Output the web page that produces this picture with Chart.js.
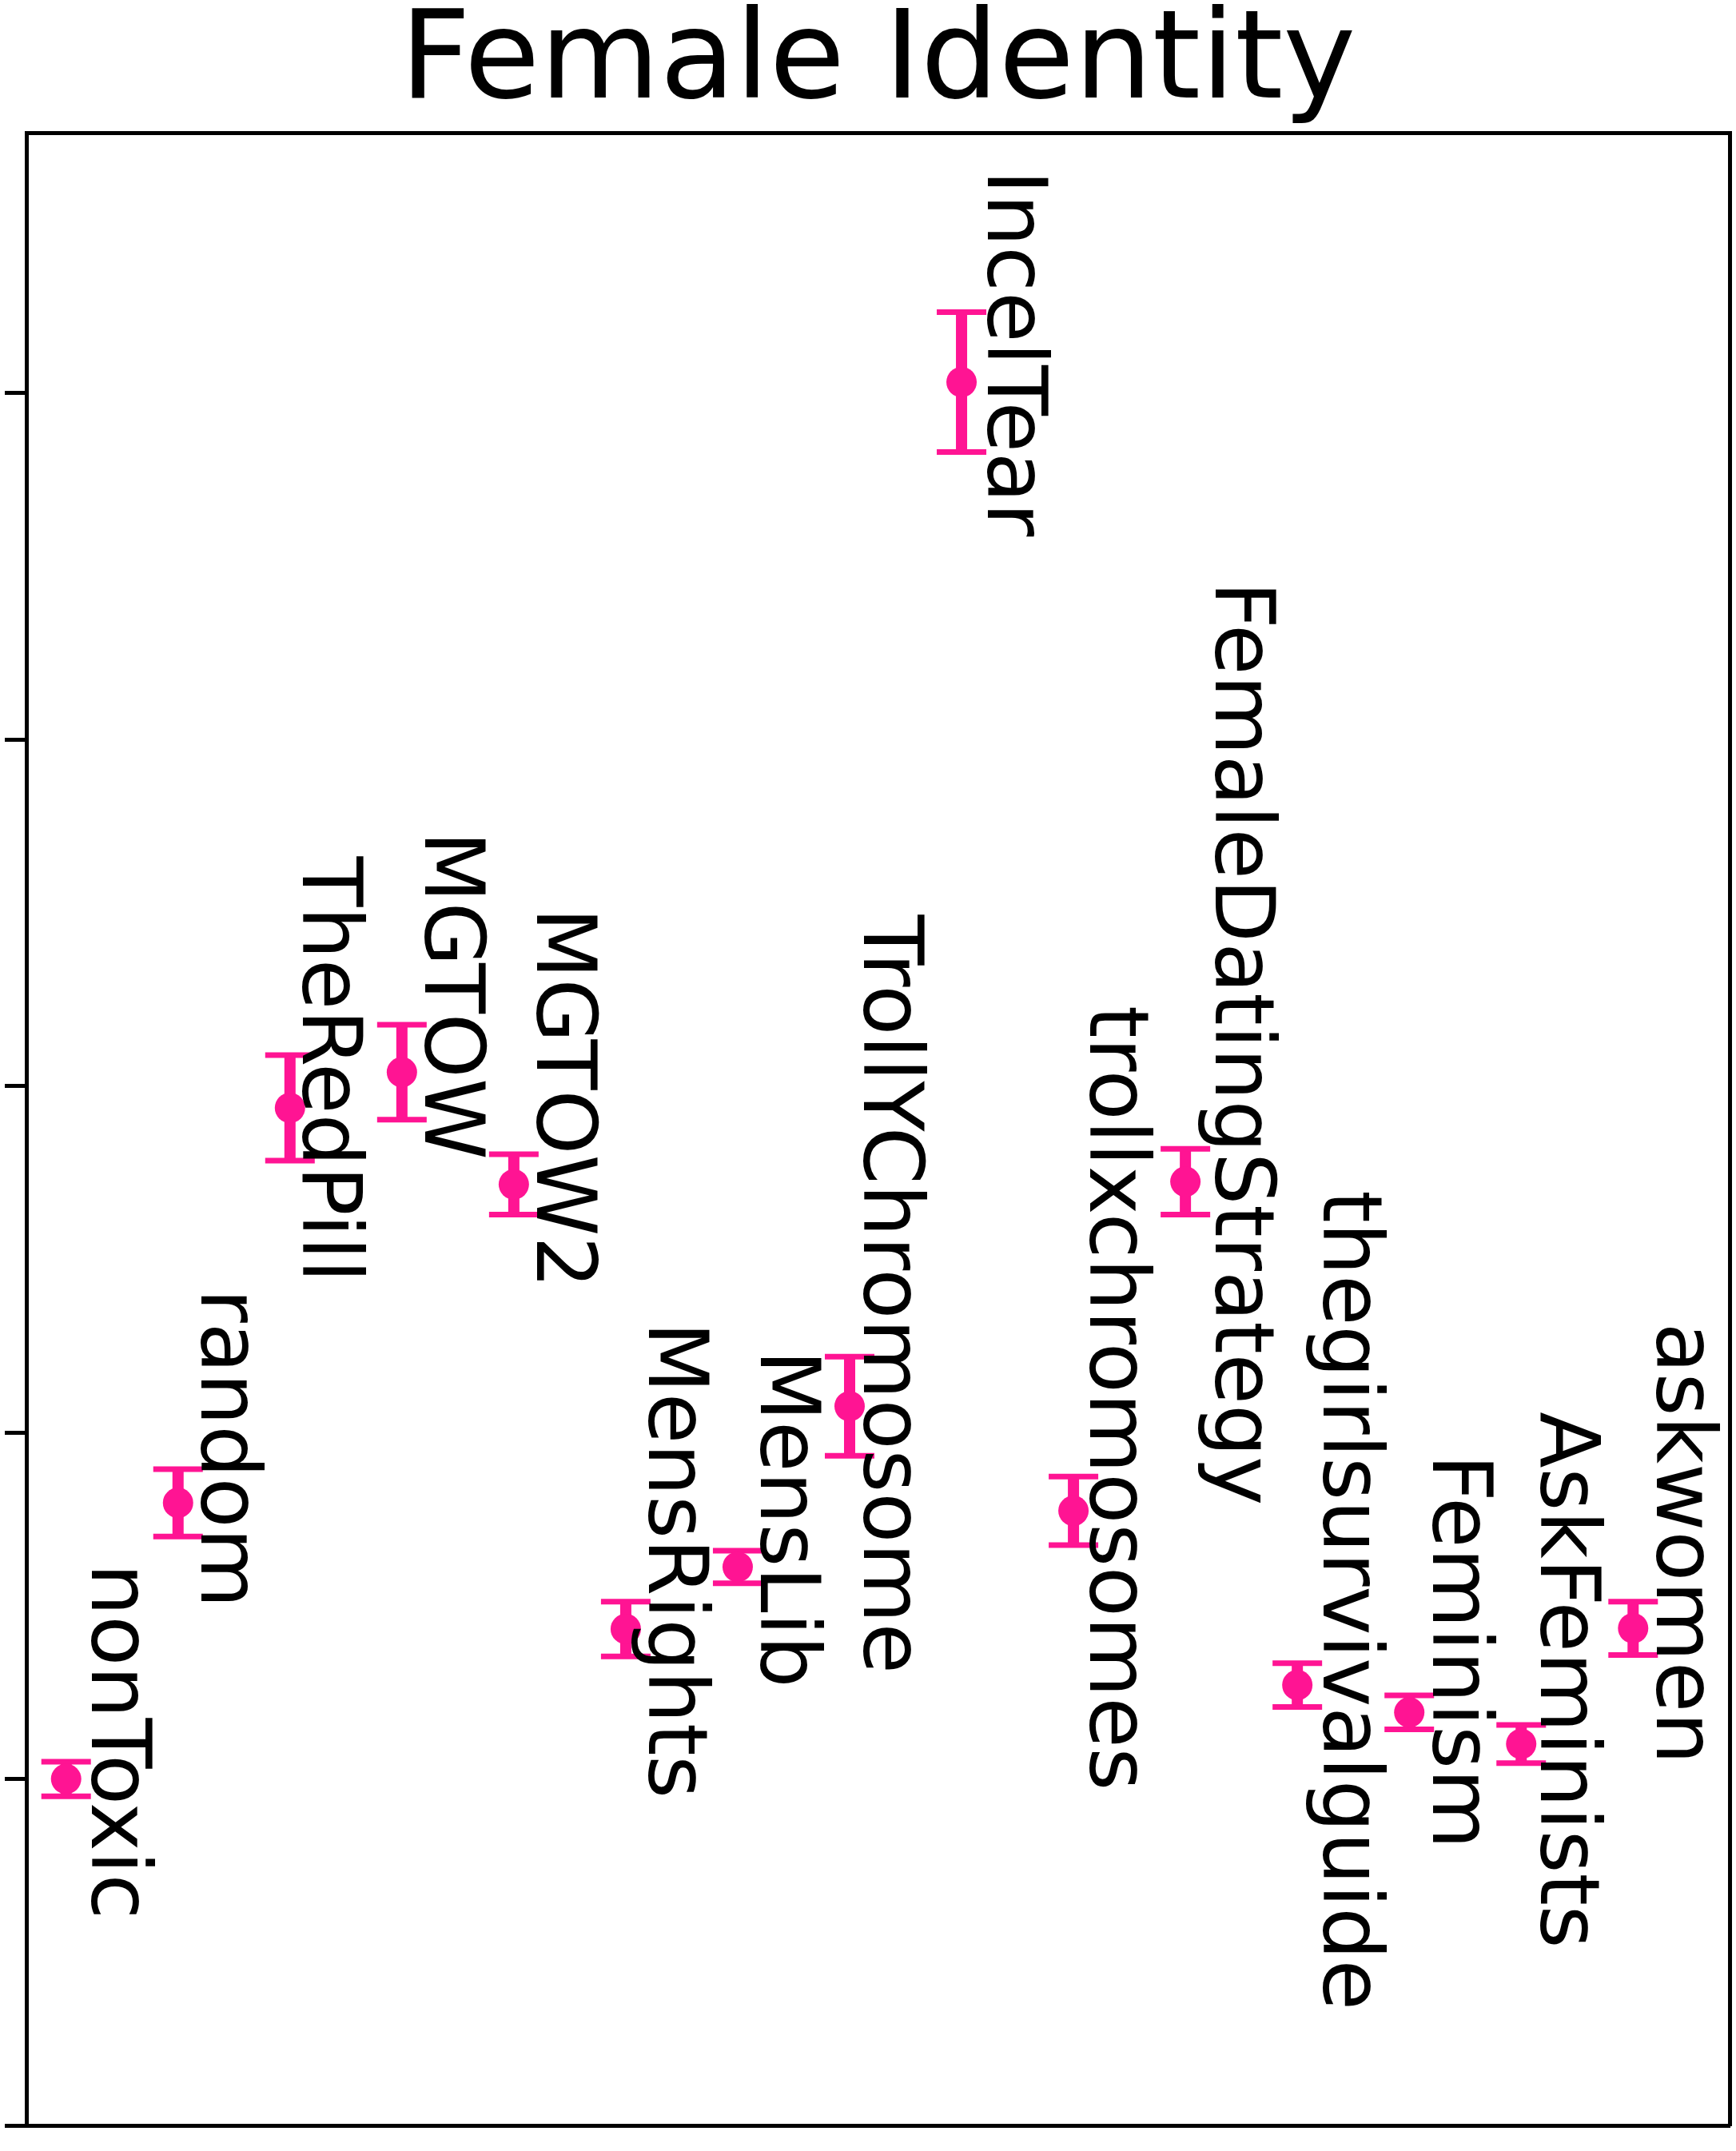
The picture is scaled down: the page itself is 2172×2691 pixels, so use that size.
<!DOCTYPE html>
<html>
<head>
<meta charset="utf-8">
<script src="https://cdn.jsdelivr.net/npm/chart.js@4.4.1/dist/chart.umd.min.js"></script>
<style>
  html, body { margin: 0; padding: 0; background: #ffffff; }
  #wrap { width: 2172px; height: 2691px; }
</style>
</head>
<body>
<div id="wrap"><canvas id="c" width="2172" height="2691"></canvas></div>
<script>
// ---- data ----
const categories = ['nonToxic', 'random', 'TheRedPill', 'MGTOW', 'MGTOW2', 'MensRights', 'MensLib',
  'TrollYChromosome', 'IncelTear', 'trollxchromosomes', 'FemaleDatingStrategy',
  'thegirlsurvivalguide', 'Feminism', 'AskFeminists', 'askwomen'];
const means  = [0.000, 0.797, 1.937, 2.040, 1.716, 0.433, 0.612, 1.076, 4.032, 0.774, 1.724, 0.271, 0.192, 0.101, 0.435];
const errors = [0.050, 0.097, 0.152, 0.137, 0.087, 0.079, 0.047, 0.143, 0.202, 0.099, 0.095, 0.063, 0.049, 0.055, 0.077];
const yTickValues = [-1, 0, 1, 2, 3, 4];
const yTickLabels = ['', '', '', '', '', ''];
const titleText = 'Female Identity';

// ---- layout / style (not data) ----
const PINK = '#ff1493';
const FONT = '"DejaVu Sans", "Liberation Sans", sans-serif';
// label offsets in px relative to each point: [dx of text baseline, dy of text centre]
const labelOffsets = [[32, -47], [29, -68], [16, -48], [29, -96], [29, -108], [29, -86], [29, -60],
  [18, -140], [33, -36], [21, -141], [38, -173], [33, -106], [30, -76], [25, -80], [30, -106]];

const errorBarPlugin = {
  id: 'errorBars',
  beforeDatasetsDraw(chart) {
    const { ctx, scales: { x, y } } = chart;
    ctx.save();
    ctx.strokeStyle = PINK;
    categories.forEach((c, i) => {
      const px = x.getPixelForValue(i);
      const top = y.getPixelForValue(means[i] + errors[i]);
      const bot = y.getPixelForValue(means[i] - errors[i]);
      ctx.lineWidth = 14;
      ctx.beginPath(); ctx.moveTo(px, top); ctx.lineTo(px, bot); ctx.stroke();
      ctx.lineWidth = 7;
      ctx.beginPath();
      ctx.moveTo(px - 31, top); ctx.lineTo(px + 31, top);
      ctx.moveTo(px - 31, bot); ctx.lineTo(px + 31, bot);
      ctx.stroke();
    });
    ctx.restore();
  }
};

const labelPlugin = {
  id: 'pointLabels',
  afterDatasetsDraw(chart) {
    const { ctx, scales: { x, y } } = chart;
    ctx.save();
    ctx.fillStyle = '#000000';
    ctx.font = '103px ' + FONT;
    ctx.textAlign = 'center';
    ctx.textBaseline = 'alphabetic';
    categories.forEach((c, i) => {
      const px = x.getPixelForValue(i) + labelOffsets[i][0];
      const py = y.getPixelForValue(means[i]) + labelOffsets[i][1];
      ctx.save();
      ctx.translate(px, py);
      ctx.rotate(Math.PI / 2);
      ctx.fillText(c, 0, 0);
      ctx.restore();
    });
    ctx.restore();
  }
};

const border = { display: true, width: 5, color: '#000000' };
const noGrid = { display: false, drawTicks: false, tickLength: 0 };
const xRange = { min: -0.355, max: 14.862 };
const yRange = { min: -1, max: 4.75 };

new Chart(document.getElementById('c'), {
  type: 'scatter',
  data: {
    datasets: [{
      label: titleText,
      data: categories.map((c, i) => ({ x: i, y: means[i] })),
      pointRadius: 19,
      pointHoverRadius: 19,
      pointBackgroundColor: PINK,
      pointBorderWidth: 0,
      showLine: false,
      clip: false
    }]
  },
  options: {
    responsive: false,
    devicePixelRatio: 1,
    animation: false,
    events: [],
    layout: { autoPadding: false, padding: { left: 6, right: 8, top: 0, bottom: 32 } },
    plugins: {
      legend: { display: false },
      tooltip: { enabled: false },
      title: {
        display: true,
        fullSize: false,
        text: titleText,
        color: '#000000',
        font: { family: FONT, size: 154, weight: 'normal', lineHeight: 0.914 },
        padding: { top: 12, bottom: 14 }
      }
    },
    scales: {
      x: {
        type: 'linear', position: 'bottom', ...xRange,
        ticks: { display: false },
        grid: noGrid,
        border
      },
      x2: {
        type: 'linear', position: 'top', ...xRange,
        ticks: { display: false },
        grid: noGrid,
        border
      },
      y: {
        type: 'linear', position: 'left', ...yRange,
        afterBuildTicks(scale) {
          scale.ticks = yTickValues.map((v, k) => ({ value: v, label: yTickLabels[k] }));
        },
        ticks: { display: false },
        grid: {
          display: true, drawOnChartArea: false, drawTicks: true,
          tickLength: 27, tickWidth: 5, tickColor: '#000000'
        },
        border
      },
      y2: {
        type: 'linear', position: 'right', ...yRange,
        ticks: { display: false },
        grid: noGrid,
        border
      }
    }
  },
  plugins: [errorBarPlugin, labelPlugin]
});
</script>
</body>
</html>
